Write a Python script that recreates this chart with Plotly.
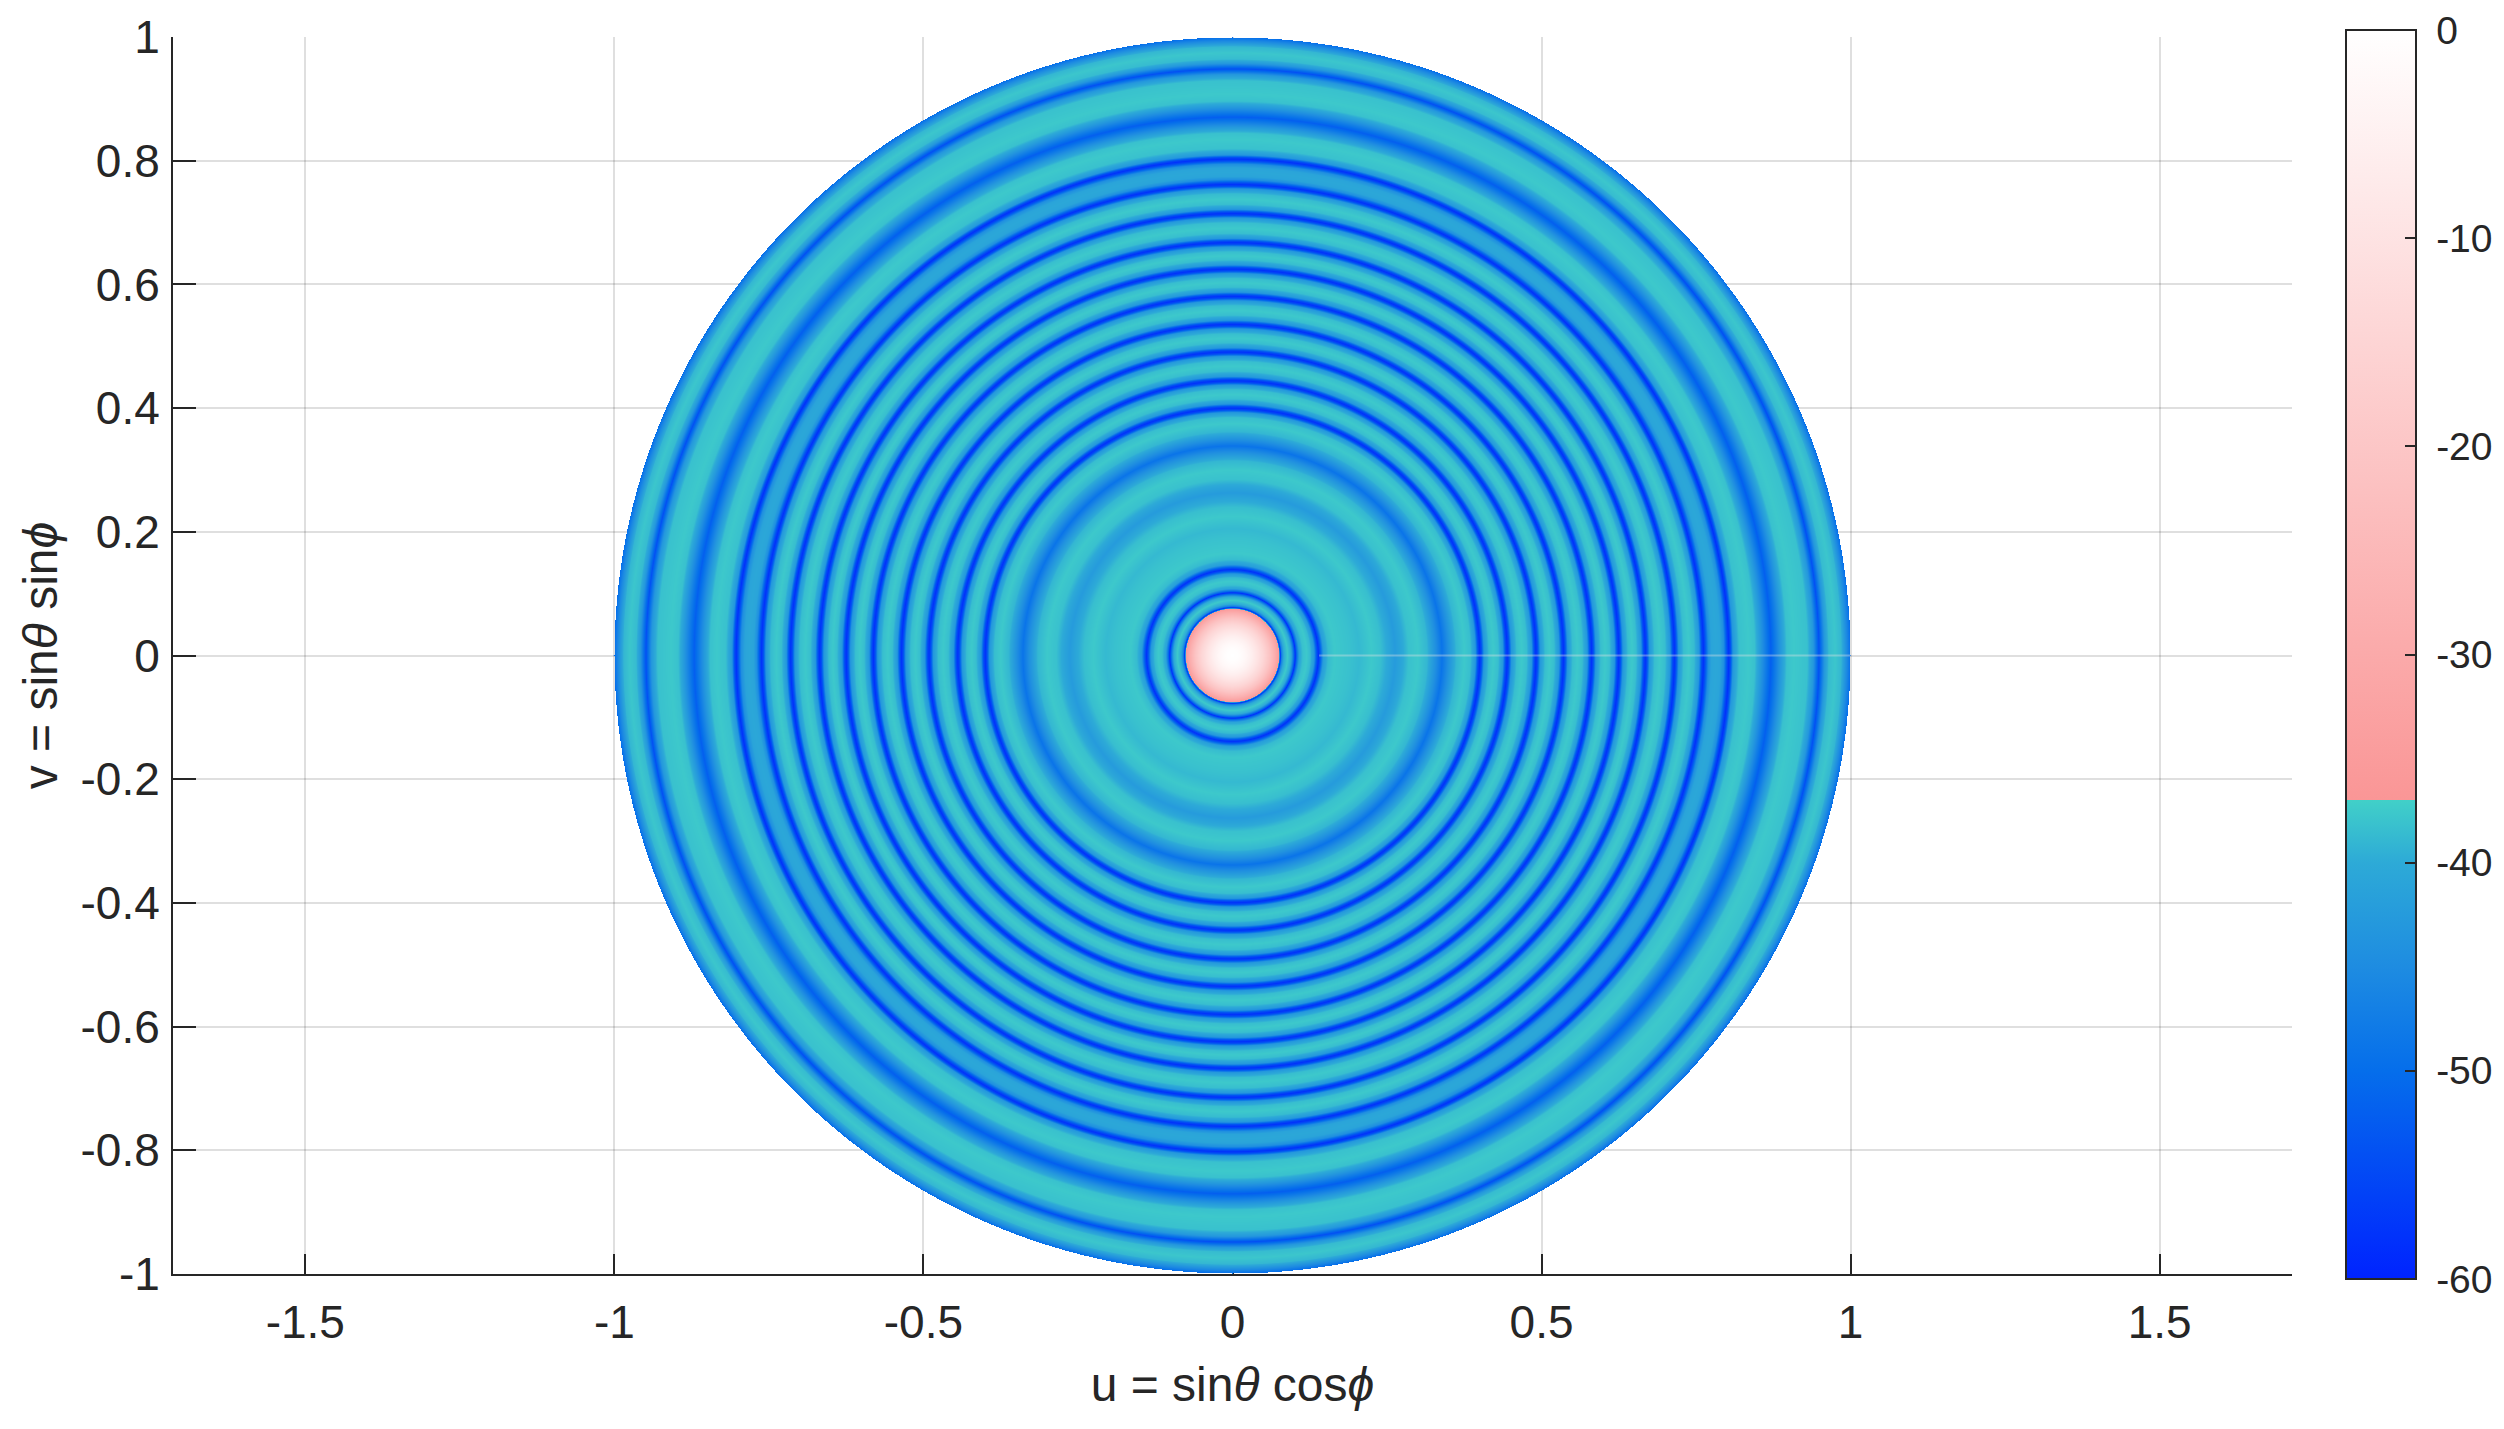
import numpy as np
import plotly.graph_objects as go

# Radial cut of the pattern (r = sqrt(u^2+v^2), level in dB)
radius = [0,.01,.02,.03,.04,.05,.06,.068,.073,.0755,.0773,.0795,.083,.089,.095,.099,.1015,.104,.108,.114,.12,.126,.132,.136,.139,.142,.147,.155,.165,
          .19,.205,.225,.24,.255,.263,.272,.285,.3,.315,.328,.339,.35,.362,.375,
          .385,.393,.397,.400,.403,.407,.415,.422,
          .43,.4375,.4415,.4445,.4475,.4515,.46,.468,
          .476,.484,.488,.491,.494,.498,.506,.513,
          .5205,.5285,.5325,.5355,.5385,.5425,.5505,.558,
          .566,.574,.578,.581,.584,.588,.596,.603,
          .61,.618,.622,.625,.628,.632,.64,.6465,
          .653,.661,.665,.668,.671,.675,.683,.691,
          .70,.708,.712,.715,.718,.722,.73,.738,
          .747,.755,.759,.762,.765,.77,.775,.782,
          .789,.795,.80,.803,.806,.81,.82,.835,.845,.855,.871,.887,.897,.908,.93,.94,.949,.958,.965,.975,.985,.995,1.0]
level_db = [0,-.6,-2.4,-5.4,-9.5,-14.5,-21,-28,-33,-36.5,-58,-47,-40,-37.6,-40,-50,-58,-50,-41,-38.2,-37.6,-38.8,-43,-53,-58,-53,-42,-38.6,-37.6,
            -38.2,-38.8,-37.6,-38.4,-41,-42.5,-41,-38.2,-37.6,-39,-44,-49,-44,-39,-37.6,
            -38.4,-43,-54,-58,-54,-43,-38.4,-37.6,
            -38.4,-43,-54,-58,-54,-43,-38.4,-37.6,
            -38.4,-43,-54,-58,-54,-43,-38.4,-37.6,
            -38.4,-43,-54,-58,-54,-43,-38.4,-37.6,
            -38.4,-43,-54,-58,-54,-43,-38.4,-37.6,
            -38.4,-43,-54,-58,-54,-43,-38.4,-37.6,
            -38.4,-43,-54,-58,-54,-43,-38.4,-37.6,
            -38.4,-43,-54,-58,-54,-43,-38.4,-37.6,
            -38.6,-43,-54,-58,-54,-44.5,-41,-40.5,
            -41,-44.5,-54,-58,-54,-43,-38.2,-37.6,-38.2,-43,-52,-43,-38.2,-37.6,-38.2,-43,-54,-43,-38.6,-37.8,-39,-46,-50]

x_ticks = [-1.5,-1,-0.5,0,0.5,1,1.5]
x_labels = ["-1.5","-1","-0.5","0","0.5","1","1.5"]
y_ticks = [-1,-0.8,-0.6,-0.4,-0.2,0,0.2,0.4,0.6,0.8,1]
y_labels = ["-1","-0.8","-0.6","-0.4","-0.2","0","0.2","0.4","0.6","0.8","1"]
cbar_ticks = [0,-10,-20,-30,-40,-50,-60]
seam_u = [0.14,1.0]
seam_v = [0,0]

INK = "#262626"
FONT = "Liberation Sans, Arial, sans-serif"
PLOT_L, PLOT_R, PLOT_T, PLOT_B = 173, 2292, 37, 1274

colorscale = [
    [0.0, "rgb(0,35,255)"],
    [10/60, "rgb(5,110,235)"],
    [15/60, "rgb(30,140,225)"],
    [20/60, "rgb(45,170,215)"],
    [23/60, "rgb(65,208,200)"],
    [23/60, "rgb(250,150,150)"],
    [1.0, "rgb(255,255,255)"],
]

grid = np.linspace(-1, 1, 1237)
uu, vv = np.meshgrid(grid, grid)
rr = np.hypot(uu, vv)
zz = np.interp(rr, radius, level_db).astype("float32")
zz[rr > 1.0] = np.nan

plot_w = PLOT_R - PLOT_L
plot_h = PLOT_B - PLOT_T

fig = go.Figure()
fig.add_trace(go.Heatmap(
    x=grid, y=grid, z=zz, zmin=-60, zmax=0, colorscale=colorscale, hoverinfo="skip",
    colorbar=dict(
        xref="paper", yref="paper", x=(2346-PLOT_L)/plot_w, xanchor="left",
        y=(PLOT_B-30)/plot_h, yanchor="top", lenmode="pixels", len=1249,
        thicknessmode="pixels", thickness=70, xpad=0, ypad=0,
        outlinecolor=INK, outlinewidth=2,
        tickmode="array", tickvals=cbar_ticks, ticktext=["\u00a0" + str(t) for t in cbar_ticks],
        ticks="inside", ticklen=12, tickwidth=2, tickcolor=INK,
        tickfont=dict(family=FONT, size=39, color=INK),
    ),
))
fig.add_trace(go.Scatter(x=seam_u, y=seam_v, mode="lines", hoverinfo="skip", showlegend=False,
                         line=dict(color="rgba(225,225,225,0.38)", width=2)))

axis_common = dict(
    showline=True, linecolor=INK, linewidth=2, mirror=False, zeroline=False,
    showgrid=True, gridcolor="rgba(38,38,38,0.15)", gridwidth=2,
    ticks="inside", tickcolor=INK, tickwidth=2,
    tickfont=dict(family=FONT, size=46, color=INK),
    layer="below traces", tickmode="array",
)
fig.update_layout(
    width=2504, height=1429, autosize=False,
    paper_bgcolor="white", plot_bgcolor="white", showlegend=False,
    margin=dict(l=PLOT_L, r=2504-PLOT_R, t=PLOT_T, b=1429-PLOT_B, autoexpand=False),
    font=dict(family=FONT, color=INK),
    xaxis=dict(axis_common, range=[-1.714, 1.714], tickvals=x_ticks, ticktext=x_labels, ticklen=20,
               ticklabelstandoff=7,
               title=dict(text="u = sin<i>θ</i> cos<i>ϕ</i>", font=dict(family=FONT, size=48, color=INK), standoff=20)),
    yaxis=dict(axis_common, range=[-1, 1], tickvals=y_ticks, ticktext=y_labels, ticklen=23,
               ticklabelstandoff=2,
               title=dict(text="v = sin<i>θ</i> sin<i>ϕ</i>", font=dict(family=FONT, size=48, color=INK), standoff=8)),
)
fig.write_html("out.html", post_script="document.body.style.margin='0';", config=dict(displayModeBar=False))
